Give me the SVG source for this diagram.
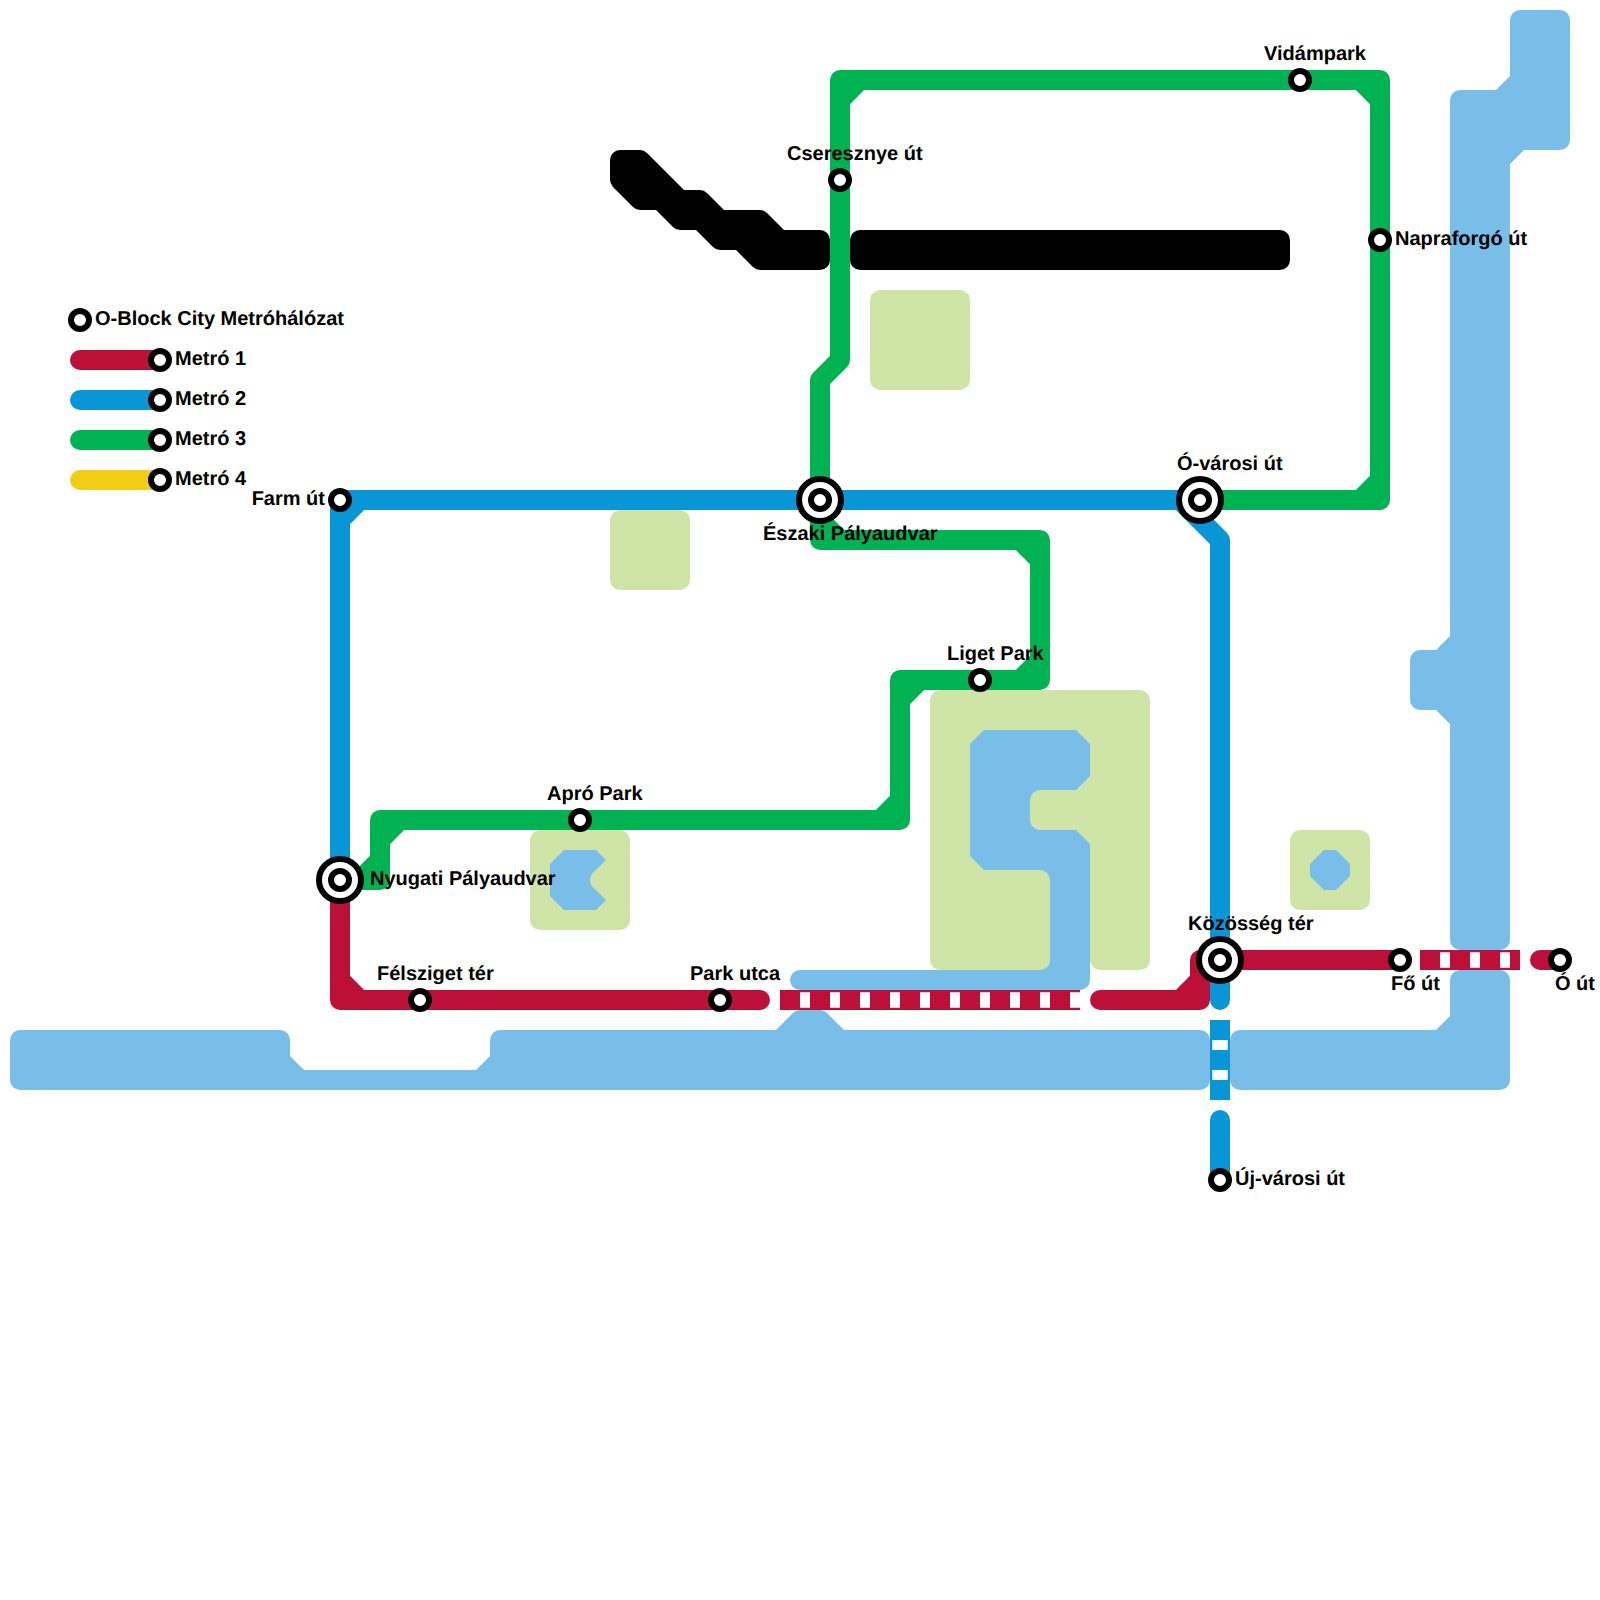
<svg xmlns="http://www.w3.org/2000/svg" width="1600" height="1600" viewBox="0 0 1600 1600">
<style>
.land{fill:#cfe4a7}
.water{fill:#79bde9}
.blk{fill:#000}
.ln{fill:none;stroke-width:20;stroke-linecap:round;stroke-linejoin:round}
.tn{fill:none;stroke-width:20}
.dash{fill:none;stroke:#fff;stroke-width:15.4;stroke-dasharray:10 20}
.r{stroke:#bd1038}.b{stroke:#0896d7}.g{stroke:#00b251}.y{stroke:#f0ce15}
.fr{fill:#bd1038}.fb{fill:#0896d7}.fg{fill:#00b251}
.st{fill:#fff;stroke:#000;stroke-width:6}
text{font-family:"Liberation Sans",Arial,sans-serif;font-weight:700;font-size:20px;fill:#000;text-rendering:geometricPrecision}
</style>
<rect width="1600" height="1600" fill="#fff"/>
<g id="terrain">
<rect class="land" x="870" y="290" width="100" height="100" rx="10"/>
<rect class="land" x="610" y="510" width="80" height="80" rx="10"/>
<rect class="land" x="530" y="830" width="100" height="100" rx="10"/>
<rect class="land" x="1290" y="830" width="80" height="80" rx="10"/>
<path class="land" d="M940 690H1140A10 10 0 0 1 1150 700V960A10 10 0 0 1 1140 970H1100A10 10 0 0 1 1090 960V880H1050V960A10 10 0 0 1 1040 970H940A10 10 0 0 1 930 960V700A10 10 0 0 1 940 690Z"/>
<path class="water" d="M984 730H1076L1090 744V776L1076 790H1040A10 10 0 0 0 1030 800V820A10 10 0 0 0 1040 830H1076L1090 844V980A10 10 0 0 1 1080 990H800A10 10 0 0 1 800 970H1040A10 10 0 0 0 1050 960V880A10 10 0 0 0 1040 870H984L970 856V744Z"/>
<path class="water" d="M564 850H596L606 860L592.5 873Q590 876 590 880Q590 884 592.5 887L606 900L596 910H564L550 896V864Z"/>
<path class="water" d="M1324 850H1336L1350 864V876L1336 890H1324L1310 876V864Z"/>
<path class="water" d="M20 1030H280A10 10 0 0 1 290 1040V1056L304 1070H476L490 1056V1040A10 10 0 0 1 500 1030H776L793 1013Q796 1010 800 1010H820Q824 1010 827 1013L844 1030H1200A10 10 0 0 1 1210 1040V1080A10 10 0 0 1 1200 1090H20A10 10 0 0 1 10 1080V1040A10 10 0 0 1 20 1030Z"/>
<path class="water" d="M1240 1030H1436L1450 1016V980A10 10 0 0 1 1460 970H1500A10 10 0 0 1 1510 980V1080A10 10 0 0 1 1500 1090H1240A10 10 0 0 1 1230 1080V1040A10 10 0 0 1 1240 1030Z"/>
<path class="water" d="M1460 90H1496L1510 76V20A10 10 0 0 1 1520 10H1560A10 10 0 0 1 1570 20V140A10 10 0 0 1 1560 150H1524L1510 164V940A10 10 0 0 1 1500 950H1460A10 10 0 0 1 1450 940V724L1436 710H1420A10 10 0 0 1 1410 700V660A10 10 0 0 1 1420 650H1436L1450 636V100A10 10 0 0 1 1460 90Z"/>
<path class="blk" d="M620 150H640Q644 150 647 153L684 190H700Q704 190 707 193L724 210H760Q764 210 767 213L784 230H820A10 10 0 0 1 830 240V260A10 10 0 0 1 820 270H760Q756 270 753 267L736 250H720Q716 250 713 247L696 230H680Q676 230 673 227L656 210H640Q636 210 633 207L613 187Q610 183 610 180V160A10 10 0 0 1 620 150Z"/>
<rect class="blk" x="850" y="230" width="440" height="40" rx="10"/>
</g>
<g id="connectors">
<path id="metro-3" class="ln g" d="M340 880H380V820H900V680H1040V540H820V380L840 360V80H1380V500H1200"/>
<path class="fg" d="M370 870V855.86L355.86 870ZM390 830V844.14L404.14 830ZM890 810V795.86L875.86 810ZM910 690V704.14L924.14 690ZM1030 670V655.86L1015.86 670ZM1030 550V564.14L1015.86 550ZM830 530V515.86L844.14 530ZM850 90V104.14L864.14 90ZM1370 90V104.14L1355.86 90ZM1370 490V475.86L1355.86 490Z"/>
<path id="metro-2" class="ln b" d="M340 880V500H1180L1220 540V1000"/>
<path class="ln b" d="M1220 1120V1180"/>
<path class="fb" d="M350 510V524.14L364.14 510Z"/>
<path class="tn b" d="M1220 1020V1100"/>
<path class="dash" d="M1220 1040V1100"/>
<path id="metro-1" class="ln r" d="M340 880V1000H760"/>
<path class="ln r" d="M1100 1000H1200V960H1400"/>
<path class="ln r" d="M1540 960H1560"/>
<path class="fr" d="M350 990V975.86L364.14 990ZM1190 990V975.86L1175.86 990Z"/>
<path class="tn r" d="M780 1000H1080"/>
<path class="dash" d="M800 1000H1080"/>
<path class="tn r" d="M1420 960H1520"/>
<path class="dash" d="M1440 960H1510"/>
<path class="ln r" d="M80 360H160"/>
<path class="ln b" d="M80 400H160"/>
<path class="ln g" d="M80 440H160"/>
<path class="ln y" d="M80 480H160"/>
</g>
<g id="legend">
<g id="legend-title"><circle class="st" cx="80" cy="320" r="9"/><text x="95" y="325">O-Block City Metróhálózat</text></g>
<g id="legend-1"><circle class="st" cx="160" cy="360" r="9"/><text x="175" y="365">Metró 1</text></g>
<g id="legend-2"><circle class="st" cx="160" cy="400" r="9"/><text x="175" y="405">Metró 2</text></g>
<g id="legend-3"><circle class="st" cx="160" cy="440" r="9"/><text x="175" y="445">Metró 3</text></g>
<g id="legend-4"><circle class="st" cx="160" cy="480" r="9"/><text x="175" y="485">Metró 4</text></g>
</g>
<g id="stations">
<g id="farm-ut"><circle class="st" cx="340" cy="500" r="9"/><text x="325" y="505" text-anchor="end">Farm út</text></g>
<g id="nyugati"><circle class="st" cx="340" cy="880" r="21"/><circle class="st" cx="340" cy="880" r="9"/><text x="370" y="885">Nyugati Pályaudvar</text></g>
<g id="felsziget"><circle class="st" cx="420" cy="1000" r="9"/><text x="377" y="980">Félsziget tér</text></g>
<g id="park-utca"><circle class="st" cx="720" cy="1000" r="9"/><text x="690" y="980">Park utca</text></g>
<g id="apro-park"><circle class="st" cx="580" cy="820" r="9"/><text x="547" y="800">Apró Park</text></g>
<g id="liget-park"><circle class="st" cx="980" cy="680" r="9"/><text x="947" y="660">Liget Park</text></g>
<g id="eszaki"><circle class="st" cx="820" cy="500" r="21"/><circle class="st" cx="820" cy="500" r="9"/><text x="763" y="540">Északi Pályaudvar</text></g>
<g id="cseresznye"><circle class="st" cx="840" cy="180" r="9"/><text x="787" y="160">Cseresznye út</text></g>
<g id="vidampark"><circle class="st" cx="1300" cy="80" r="9"/><text x="1264" y="60">Vidámpark</text></g>
<g id="napraforgo"><circle class="st" cx="1380" cy="240" r="9"/><text x="1395" y="245">Napraforgó út</text></g>
<g id="o-varosi"><circle class="st" cx="1200" cy="500" r="21"/><circle class="st" cx="1200" cy="500" r="9"/><text x="1177" y="470">Ó-városi út</text></g>
<g id="kozosseg"><circle class="st" cx="1220" cy="960" r="21"/><circle class="st" cx="1220" cy="960" r="9"/><text x="1188" y="930">Közösség tér</text></g>
<g id="fo-ut"><circle class="st" cx="1400" cy="960" r="9"/><text x="1391" y="990">Fő út</text></g>
<g id="o-ut"><circle class="st" cx="1560" cy="960" r="9"/><text x="1555" y="990">Ó út</text></g>
<g id="uj-varosi"><circle class="st" cx="1220" cy="1180" r="9"/><text x="1235" y="1185">Új-városi út</text></g>
</g>
</svg>
